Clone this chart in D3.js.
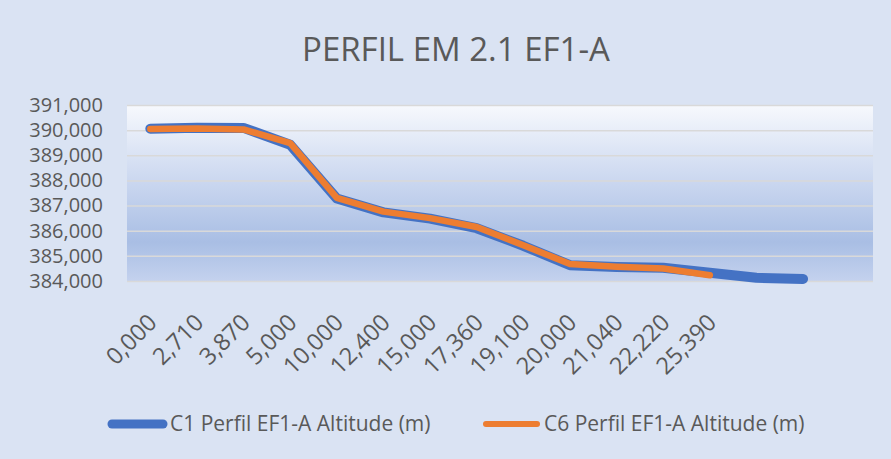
<!DOCTYPE html>
<html>
<head>
<meta charset="utf-8">
<script src="https://cdn.jsdelivr.net/npm/d3@7"></script>
<style>
	body { margin: 0; background: #ffffff; }
	svg text { font-family: "Open Sans", sans-serif; fill: #595959; }
</style>
</head>
<body>
<div id="chart"></div>
<script>
	// distance along profile (km), '' for empty slots at the end of the axis
	var categories = [0, 2.71, 3.87, 5, 10, 12.4, 15, 17.36, 19.1, 20, 21.04, 22.22, 25.39, '', '', ''];
	// altitudes (m)
	var c1Values = [390.06, 390.10, 390.09, 389.42, 387.28, 386.73, 386.48, 386.10, 385.40, 384.63, 384.56, 384.53, 384.33, 384.13, 384.08];
	var c6Values = [390.05, 390.07, 390.03, 389.48, 387.31, 386.76, 386.50, 386.15, 385.42, 384.68, 384.57, 384.50, 384.23];
	var yTicks = [384, 385, 386, 387, 388, 389, 390, 391];
	var seriesNames = ['C1 Perfil EF1-A Altitude (m)', 'C6 Perfil EF1-A Altitude (m)'];
	var chartTitle = 'PERFIL EM 2.1 EF1-A';

	var cfg = { width: 891, height: 459, left: 127, right: 18, top: 105, bottom: 178 };

	// pt-BR style number format: comma as decimal separator
	var fmt = d3.formatLocale({ decimal: ',', thousands: '.', grouping: [3], currency: ['', ''] }).format('.3f');

	var svg = d3.select('#chart')
		.append('svg')
		.attr('width', cfg.width)
		.attr('height', cfg.height);

	// plot area gradient
	var grad = svg.append('defs').append('linearGradient')
		.attr('id', 'plotGrad')
		.attr('x1', 0).attr('y1', 0).attr('x2', 0).attr('y2', 1);
	[['0%', '#f7f9fd'], ['45%', '#c9d6ef'], ['78%', '#a9bee4'], ['100%', '#c4d2ee']].forEach(function (s) {
		grad.append('stop').attr('offset', s[0]).attr('stop-color', s[1]);
	});

	// chart background
	svg.append('rect')
		.attr('x', 0).attr('y', 0)
		.attr('width', cfg.width).attr('height', cfg.height)
		.attr('fill', '#dae3f3');

	var width = cfg.width - cfg.left - cfg.right,
		height = cfg.height - cfg.top - cfg.bottom;

	var x = d3.scaleBand().domain(d3.range(categories.length)).range([0, width]);
	var y = d3.scaleLinear().domain([384, 391]).range([height, 0]);

	var g = svg.append('g')
		.attr('transform', 'translate(' + cfg.left + ',' + cfg.top + ')');

	g.append('rect')
		.attr('width', width).attr('height', height)
		.attr('fill', 'url(#plotGrad)');

	// horizontal grid lines
	g.append('g')
		.attr('class', 'grid')
		.call(d3.axisLeft(y).tickValues(yTicks).tickSize(-width).tickFormat(''))
		.call(function (s) {
			s.select('.domain').remove();
			s.selectAll('line').attr('stroke', '#d9d9d9').attr('stroke-width', 1.5);
		});

	// y axis labels
	g.append('g')
		.call(d3.axisLeft(y).tickValues(yTicks).tickSize(0).tickPadding(24).tickFormat(fmt))
		.call(function (s) {
			s.select('.domain').remove();
			s.selectAll('text').attr('font-size', 20).attr('fill', '#595959');
		});

	// x axis labels, rotated
	g.append('g')
		.attr('transform', 'translate(0,' + height + ')')
		.call(d3.axisBottom(x).tickSize(0).tickFormat(function (i) {
			return categories[i] === '' ? '' : fmt(categories[i]);
		}))
		.call(function (s) {
			s.select('.domain').remove();
			s.selectAll('text')
				.attr('font-size', 23.5)
				.attr('fill', '#595959')
				.attr('text-anchor', 'end')
				.attr('dy', 0)
				.attr('y', 0)
				.attr('transform', 'translate(8,43) rotate(-45)');
		});

	var line = d3.line()
		.x(function (d, i) { return x(i) + x.bandwidth() / 2; })
		.y(function (d) { return y(d); });

	g.append('path')
		.attr('d', line(c1Values))
		.attr('fill', 'none')
		.attr('stroke', '#4472c4')
		.attr('stroke-width', 10)
		.attr('stroke-linejoin', 'round')
		.attr('stroke-linecap', 'round');

	g.append('path')
		.attr('d', line(c6Values))
		.attr('fill', 'none')
		.attr('stroke', '#ed7d31')
		.attr('stroke-width', 6.5)
		.attr('stroke-linejoin', 'round')
		.attr('stroke-linecap', 'round');

	// title
	svg.append('text')
		.attr('x', 456).attr('y', 61)
		.attr('text-anchor', 'middle')
		.attr('font-size', 33)
		.text(chartTitle);

	// legend
	var legend = [
		{ name: seriesNames[0], color: '#4472c4', w: 9, x: 109 },
		{ name: seriesNames[1], color: '#ed7d31', w: 6, x: 483 }
	];
	var lg = svg.append('g').selectAll('g').data(legend).enter().append('g')
		.attr('transform', function (d) { return 'translate(' + d.x + ',424)'; });
	lg.append('line')
		.attr('x1', 3).attr('x2', 54)
		.attr('stroke', function (d) { return d.color; })
		.attr('stroke-width', function (d) { return d.w; })
		.attr('stroke-linecap', 'round');
	lg.append('text')
		.attr('x', 61).attr('dy', '0.35em')
		.attr('font-size', 21)
		.text(function (d) { return d.name; });
</script>
</body>
</html>
